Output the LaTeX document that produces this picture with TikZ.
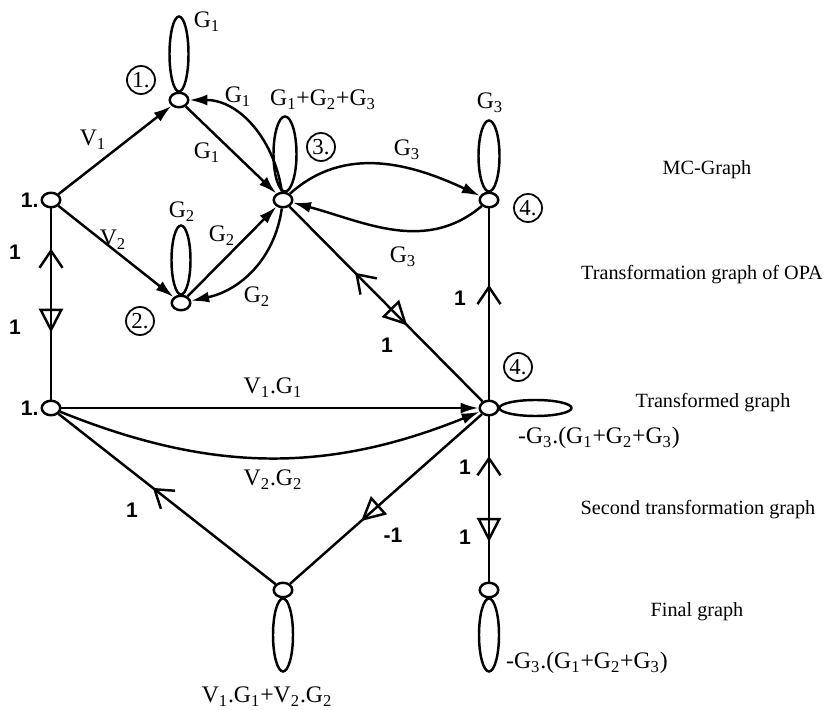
\documentclass[tikz,border=0pt]{standalone}
\usepackage{fontspec}
\setmainfont{Liberation Serif}
\newfontfamily\wtfont{Liberation Sans}
\usetikzlibrary{shapes.geometric, arrows.meta, decorations.markings}
\newcommand{\Gs}[1]{G\textsubscript{#1}}
\newcommand{\Vs}[1]{V\textsubscript{#1}}
\tikzset{
  vtx/.style={ellipse, draw, line width=1.4pt, fill=white, minimum width=3.7mm, minimum height=2.9mm, inner sep=0pt},
  tag/.style={circle, draw, line width=1pt, minimum size=5.6mm, inner sep=0pt, font=\fontsize{13}{14}\selectfont},
  lbl/.style={font=\fontsize{13.5}{15}\selectfont, inner sep=1pt},
  wt/.style={font=\wtfont\bfseries\fontsize{12}{13}\selectfont, inner sep=1pt},
  caption/.style={font=\fontsize{11.5}{13}\selectfont},
  plain/.style={line width=1.4pt},
  flow/.style={line width=1.4pt, -{Latex[length=3.6mm, width=2.2mm]}},
  chevfwd/.style={postaction={decorate, decoration={markings, mark=at position #1 with {\arrow{Straight Barb[length=3.4mm, width=4.6mm, line width=1.4pt]}}}}},
  chevback/.style={postaction={decorate, decoration={markings, mark=at position #1 with {\arrowreversed{Straight Barb[length=3.4mm, width=4.6mm, line width=1.4pt]}}}}},
  trifwd/.style={postaction={decorate, decoration={markings, mark=at position #1 with {\arrow{Triangle[open, length=4.8mm, width=4.8mm, line width=1.4pt]}}}}}
}

\begin{document}
\begin{tikzpicture}[x=0.2mm, y=0.2mm]
\useasboundingbox (0,0) rectangle (828,-710);

% MC-graph
\node (a) [vtx, label={[wt, name=la]left:1.}] at (51,-200) {};
\node (n1) [vtx] at (179,-100) {};
\node (n2) [vtx] at (181,-303) {};
\node (n3) [vtx] at (283,-200) {};
\node (n4) [vtx] at (489,-200) {};

\draw[plain] (n1.north) ++(0,37.5) ellipse [x radius=9.5, y radius=37.5];
\draw[plain] (n2.north) ++(0,34.5) ellipse [x radius=9.5, y radius=34.5];
\draw[plain] (n3.north) ++(2,37.5) ellipse [x radius=11.5, y radius=37.5];
\draw[plain] (n4.north) ++(0,35.5) ellipse [x radius=10.5, y radius=35.5];

\draw[flow] (a) -- (n1);
\draw[flow] (a) -- (n2);
\draw[flow] (n1) -- (n3);
\draw[flow] (n2) -- (n3);
\draw[flow] (n3) to[out=98, in=0] (n1);
\draw[flow] (n3) to[out=-98, in=12] (n2);
\draw[flow] (n3) to[out=42, in=155] (n4);
\draw[flow] (n4) to[out=-140, in=-15] (n3);

\node (tag1) [tag] at (141,-80) {1.};
\node (tag2) [tag] at (140,-321) {2.};
\node (tag3) [tag] at (321,-147) {3.};
\node (tag4) [tag] at (528,-208) {4.};

\node (lg1) [lbl] at (207,-22) {\Gs{1}};
\node (lg2) [lbl] at (182,-212) {\Gs{2}};
\node (lsum) [lbl] at (323,-100) {\Gs{1}+\Gs{2}+\Gs{3}};
\node (lg3) [lbl] at (490,-103) {\Gs{3}};
\node (lv1) [lbl] at (93,-140) {\Vs{1}};
\node (lv2) [lbl] at (113,-240) {\Vs{2}};
\node (l13) [lbl] at (207,-153) {\Gs{1}};
\node (l31) [lbl] at (238,-97) {\Gs{1}};
\node (l23) [lbl] at (222,-236) {\Gs{2}};
\node (l32) [lbl] at (257,-297) {\Gs{2}};
\node (l34) [lbl] at (407,-150) {\Gs{3}};
\node (l43) [lbl] at (403,-257) {\Gs{3}};

% transformed graph
\node (b) [vtx, label={[wt, name=lb]left:1.}] at (51,-408) {};
\node (t4) [vtx] at (489,-408) {};
\node (tag4b) [tag] at (518,-367) {4.};
\draw[plain] (t4.east) ++(36,0) ellipse [x radius=36, y radius=8];

\draw[plain, chevback=0.21, trifwd=0.65] (a) -- (b);
\draw[plain, chevback=0.34, trifwd=0.61] (n3) -- (t4);
\draw[plain, chevback=0.40] (n4) -- (t4);
\draw[flow] (b) -- (t4);
\draw[flow] (b) to[bend right=22] (t4);

\node (wab1) [wt] at (15,-252) {1};
\node (wab2) [wt] at (15,-327) {1};
\node (w3t) [wt] at (387,-345) {1};
\node (w4t) [wt] at (460,-298) {1};
\node (lvg1) [lbl] at (273,-388) {\Vs{1}.\Gs{1}};
\node (lvg2) [lbl] at (273,-480) {\Vs{2}.\Gs{2}};
\node (lt4) [lbl] at (599,-438) {-\Gs{3}.(\Gs{1}+\Gs{2}+\Gs{3})};

% second transformation and final graph
\node (c) [vtx] at (283,-590) {};
\node (f) [vtx] at (489,-590) {};
\draw[plain] (c.south) ++(0,-36.5) ellipse [x radius=10, y radius=36.5];
\draw[plain] (f.south) ++(0,-36.5) ellipse [x radius=10, y radius=36.5];

\draw[plain, chevfwd=0.565] (c) -- (b);
\draw[plain, trifwd=0.63] (t4) -- (c);
\draw[plain, chevback=0.24, trifwd=0.76] (t4) -- (f);

\node (wcb) [wt] at (132,-510) {1};
\node (wtc) [wt] at (393,-535) {-1};
\node (wtf1) [wt] at (465,-467) {1};
\node (wtf2) [wt] at (465,-537) {1};
\node (lc) [lbl] at (267,-697) {\Vs{1}.\Gs{1}+\Vs{2}.\Gs{2}};
\node (lf) [lbl] at (587,-663) {-\Gs{3}.(\Gs{1}+\Gs{2}+\Gs{3})};

% captions
\node (cap1) [caption] at (707,-170) {MC-Graph};
\node (cap2) [caption] at (702,-275) {Transformation graph of OPA};
\node (cap3) [caption] at (713,-403) {Transformed graph};
\node (cap4) [caption] at (698,-510) {Second transformation graph};
\node (cap5) [caption] at (697,-612) {Final graph};
\end{tikzpicture}
\end{document}
